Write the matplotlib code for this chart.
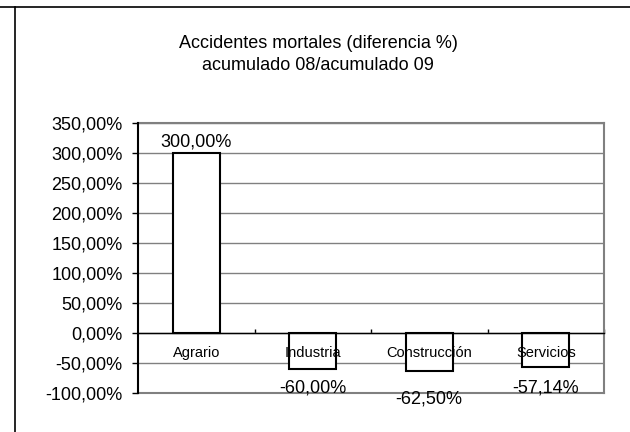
import matplotlib
matplotlib.use("Agg")
import matplotlib.pyplot as plt
from matplotlib.lines import Line2D
from matplotlib.ticker import FuncFormatter, FixedLocator

plt.rcParams['font.family'] = ['Liberation Sans', 'DejaVu Sans']

categories = ["Agrario", "Industria", "Construcción", "Servicios"]
values = [300.00, -60.00, -62.50, -57.14]
value_labels = ["300,00%", "-60,00%", "-62,50%", "-57,14%"]
yticks = [-100, -50, 0, 50, 100, 150, 200, 250, 300, 350]
title = "Accidentes mortales (diferencia %)\nacumulado 08/acumulado 09"

# label offsets (points) relative to bar end
label_offsets = [8, -14, -20.5, -15]

fig = plt.figure(figsize=(6.3, 4.32), dpi=100)
ax = fig.add_axes([138/630, 1 - 393/432, (604-138)/630, (393-123)/432])

x = list(range(len(categories)))
ax.bar(x, values, width=0.4, color="white", edgecolor="black", linewidth=1.5, zorder=3)

ax.set_xlim(-0.5, 3.5)
ax.set_ylim(-100, 350)
ax.yaxis.set_major_locator(FixedLocator(yticks))
ax.yaxis.set_major_formatter(FuncFormatter(lambda v, p: f"{v:.2f}%".replace(".", ",")))
ax.grid(axis='y', color="#808080", linewidth=1.0, zorder=0)
ax.set_axisbelow(True)
ax.axhline(-100, color="#808080", linewidth=1.5, clip_on=False, zorder=2)

ax.spines['bottom'].set_position(('data', 0))
ax.spines['bottom'].set_color('black')
ax.spines['bottom'].set_linewidth(1.0)
ax.spines['bottom'].set_zorder(4)
ax.spines['left'].set_color('black')
ax.spines['left'].set_linewidth(1.5)
ax.spines['left'].set_zorder(5)
for s in ('top', 'right'):
    ax.spines[s].set_color('#808080')
    ax.spines[s].set_linewidth(1.5)

ax.set_xticks([0.5, 1.5, 2.5, 3.5])
ax.tick_params(axis='x', direction='in', length=3, width=1, color='black', labelbottom=False)
ax.tick_params(axis='y', direction='out', length=4, width=1, color='black', labelsize=13, pad=7)

for i, cat in enumerate(categories):
    ax.annotate(cat, xy=(i, 0), xytext=(0, -14.5), textcoords='offset points',
                ha='center', va='center', fontsize=10.5, zorder=5)

for i, (v, lab) in enumerate(zip(values, value_labels)):
    ax.annotate(lab, xy=(i, v), xytext=(0, label_offsets[i]), textcoords='offset points',
                ha='center', va='center', fontsize=13, zorder=5, annotation_clip=False)

fig.text(318/630, 1 - 54.5/432, title, ha='center', va='center', fontsize=13, linespacing=1.35)

fig.add_artist(Line2D([0, 1], [1 - 7.3/432, 1 - 7.3/432], color='black', linewidth=1.2,
                      transform=fig.transFigure))
fig.add_artist(Line2D([15.3/630, 15.3/630], [0, 1 - 7.3/432], color='black', linewidth=1.2,
                      transform=fig.transFigure))

fig.savefig("out.png", dpi=100)
